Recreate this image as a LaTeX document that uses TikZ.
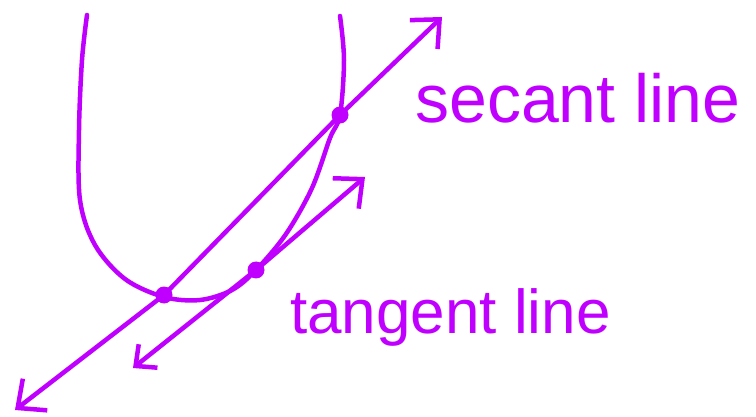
\documentclass[tikz,border=0pt]{standalone}
\usepackage{fontspec}
\setmainfont{Liberation Sans}
\usetikzlibrary{arrows.meta}
\definecolor{pen}{RGB}{192,0,255}
\tikzset{
  ink/.style={draw=pen, line width=4.5pt, line cap=round, line join=round},
  bigbarb/.tip={Straight Barb[length=22pt, width=40pt, line width=4.5pt]},
  smallbarb/.tip={Straight Barb[length=16pt, width=30pt, line width=4.5pt]},
  dotpt/.style={circle, fill=pen, inner sep=0pt, minimum size=17pt},
  label/.style={text=pen, anchor=base west, inner sep=0pt}
}
\begin{document}
\begin{tikzpicture}[x=1pt, y=-1pt]
\useasboundingbox (0,0) rectangle (756,417);
% points
\node[dotpt] (p1) at (164,295) {};
\node[dotpt] (p2) at (256,270) {};
\node[dotpt] (p3) at (340,115) {};
\coordinate (s0) at (15,410);
\coordinate (s1) at (442,17);
\coordinate (t0) at (133,368);
\coordinate (t1) at (365,177);
% curve
\draw[ink] plot[smooth, tension=0.55] coordinates {(87,15) (82,60) (79,130) (80,200) (95,245) (125,279) (164,297) (200,300) (232,290) (256,270) (286,234) (312,188) (330,138) (340,115) (344,60) (340,16)};
% secant line
\draw[ink, bigbarb-bigbarb] (s0) -- (p1.center) -- (p3.center) -- (s1);
% tangent line
\draw[ink, smallbarb-bigbarb] (t0) -- (p2.center) -- (t1);
% labels
\node[label, font=\fontsize{68}{68}\selectfont] (sec) at (415,123) {secant line};
\node[label, font=\fontsize{62}{62}\selectfont] (tan) at (290,333) {tangent line};
\end{tikzpicture}
\end{document}
